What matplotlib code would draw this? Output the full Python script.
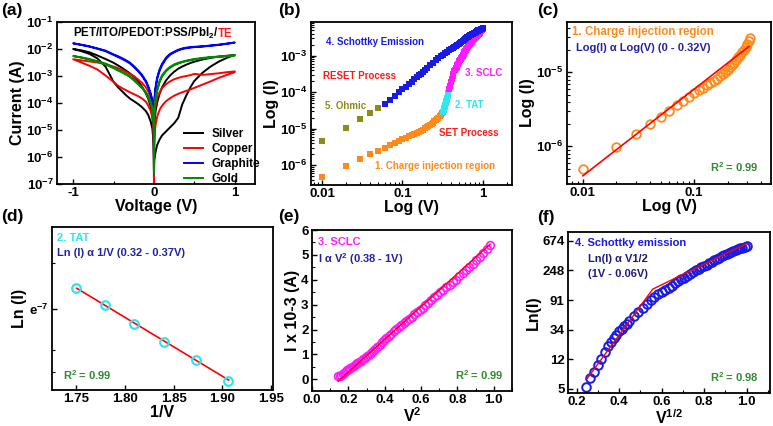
import numpy as np
import matplotlib
matplotlib.use("Agg")
import matplotlib.pyplot as plt
from matplotlib.ticker import FixedLocator, NullFormatter, NullLocator, MultipleLocator, LogLocator

plt.rcParams['font.family'] = ['Liberation Sans', 'DejaVu Sans']
plt.rcParams['font.weight'] = 'bold'
plt.rcParams['axes.labelweight'] = 'bold'
plt.rcParams['axes.unicode_minus'] = False
plt.rcParams['mathtext.fontset'] = 'custom'
plt.rcParams['mathtext.rm'] = 'Liberation Sans:bold'
plt.rcParams['mathtext.bf'] = 'Liberation Sans:bold'
plt.rcParams['mathtext.it'] = 'Liberation Sans:bold'
plt.rcParams['mathtext.default'] = 'rm'

# ---------------- DATA ----------------
# (a) I-V sweeps, log10(|I|) on a common voltage grid (positive side; negative = -V)
V_a = [0.0, 0.002, 0.005, 0.01, 0.02, 0.04, 0.07, 0.1, 0.15, 0.2, 0.25, 0.3, 0.35, 0.4, 0.45, 0.5, 0.6, 0.7, 0.8, 0.9, 1.0]
metals = ['Silver', 'Copper', 'Graphite', 'Gold']
silver_pos_a = [-7.0, -6.3, -6.1, -6.0, -5.8, -5.55, -5.35, -5.2, -5.05, -4.9, -4.75, -4.55, -4.05, -3.72, -3.42, -3.18, -2.88, -2.65, -2.47, -2.33, -2.22]
silver_pos_b = [-6.5, -5.3, -4.9, -4.6, -4.3, -3.98, -3.65, -3.42, -3.16, -2.98, -2.84, -2.73, -2.65, -2.58, -2.52, -2.47, -2.39, -2.33, -2.28, -2.25, -2.22]
silver_neg_a = [-6.6, -5.3, -5.0, -4.8, -4.5, -4.15, -3.85, -3.65, -3.38, -3.18, -3.02, -2.9, -2.79, -2.69, -2.6, -2.51, -2.37, -2.24, -2.12, -2.05, -2.0]
silver_neg_b = [-7.0, -6.0, -5.6, -5.3, -4.95, -4.7, -4.45, -4.3, -4.15, -4.03, -3.93, -3.83, -3.7, -3.55, -3.4, -3.22, -2.65, -2.35, -2.18, -2.08, -2.0]
copper_pos_a = [-7.0, -5.0, -4.6, -4.35, -4.1, -3.8, -3.6, -3.45, -3.3, -3.2, -3.12, -3.07, -3.03, -3.0, -2.97, -2.92, -2.96, -2.93, -2.9, -2.86, -2.83]
copper_pos_b = [-7.0, -5.8, -5.45, -5.1, -4.8, -4.5, -4.25, -4.1, -3.93, -3.82, -3.73, -3.66, -3.6, -3.55, -3.5, -3.44, -3.32, -3.2, -3.07, -2.96, -2.86]
copper_neg_a = [-7.0, -4.9, -4.55, -4.3, -4.05, -3.8, -3.58, -3.42, -3.25, -3.12, -3.0, -2.92, -2.84, -2.77, -2.7, -2.65, -2.56, -2.5, -2.46, -2.42, -2.38]
copper_neg_b = [-7.0, -5.5, -5.1, -4.8, -4.55, -4.3, -4.1, -3.95, -3.83, -3.74, -3.67, -3.6, -3.52, -3.44, -3.35, -3.22, -2.98, -2.76, -2.62, -2.5, -2.38]
graphite_pos_a = [-6.6, -4.3, -3.95, -3.7, -3.4, -3.05, -2.75, -2.55, -2.32, -2.18, -2.1, -2.03, -1.98, -1.95, -1.93, -1.92, -1.9, -1.87, -1.84, -1.8, -1.76]
graphite_pos_b = [-6.6, -4.4, -4.05, -3.78, -3.47, -3.1, -2.8, -2.6, -2.36, -2.21, -2.12, -2.05, -2.0, -1.97, -1.95, -1.93, -1.91, -1.88, -1.85, -1.81, -1.76]
graphite_neg_a = [-6.6, -4.3, -4.15, -4.05, -3.9, -3.65, -3.38, -3.18, -2.95, -2.78, -2.63, -2.5, -2.41, -2.33, -2.26, -2.2, -2.06, -1.98, -1.9, -1.84, -1.79]
graphite_neg_b = [-6.6, -4.4, -4.25, -4.12, -3.95, -3.7, -3.43, -3.22, -2.99, -2.81, -2.66, -2.53, -2.44, -2.36, -2.29, -2.22, -2.08, -1.99, -1.91, -1.85, -1.79]
gold_pos_a = [-6.6, -4.6, -4.3, -4.05, -3.8, -3.5, -3.17, -2.97, -2.78, -2.66, -2.57, -2.51, -2.47, -2.43, -2.4, -2.37, -2.33, -2.3, -2.28, -2.26, -2.24]
gold_pos_b = [-6.6, -4.7, -4.4, -4.12, -3.86, -3.55, -3.22, -3.02, -2.82, -2.69, -2.6, -2.54, -2.49, -2.45, -2.42, -2.39, -2.35, -2.31, -2.29, -2.27, -2.24]
gold_neg_a = [-6.6, -4.75, -4.55, -4.4, -4.2, -3.98, -3.75, -3.6, -3.41, -3.27, -3.13, -3.0, -2.92, -2.83, -2.76, -2.68, -2.54, -2.45, -2.37, -2.31, -2.26]
gold_neg_b = [-6.6, -4.85, -4.62, -4.45, -4.25, -4.02, -3.79, -3.63, -3.44, -3.3, -3.16, -3.03, -2.94, -2.86, -2.79, -2.71, -2.57, -2.47, -2.39, -2.32, -2.26]

# (b)/(c) 1. charge injection (SET)
V_inj = [0.01, 0.02, 0.03, 0.04, 0.05, 0.06, 0.07, 0.08, 0.09, 0.10, 0.11, 0.12, 0.13, 0.14, 0.15, 0.16,
         0.17, 0.18, 0.19, 0.20, 0.21, 0.22, 0.23, 0.24, 0.25, 0.26, 0.27, 0.28, 0.29, 0.30, 0.31, 0.32]
I_inj = [4.9e-7, 9.8e-7, 1.47e-6, 1.98e-6, 2.52e-6, 3.05e-6, 3.6e-6, 4.15e-6, 4.7e-6, 5.25e-6, 5.75e-6, 6.2e-6,
         6.7e-6, 7.2e-6, 7.7e-6, 8.25e-6, 8.85e-6, 9.5e-6, 1.02e-5, 1.09e-5, 1.17e-5, 1.26e-5, 1.36e-5, 1.47e-5,
         1.59e-5, 1.72e-5, 1.87e-5, 2.03e-5, 2.22e-5, 2.45e-5, 2.68e-5, 2.95e-5]
fit_c_V = [0.01, 0.31]
fit_c_I = [4.0e-7, 2.24e-5]

# (b) 2. TAT
V_tat = [0.32, 0.325, 0.33, 0.335, 0.34, 0.345, 0.35, 0.355, 0.36, 0.365, 0.37]
I_tat = [2.9e-5, 3.2e-5, 3.6e-5, 4.0e-5, 4.5e-5, 5.0e-5, 5.6e-5, 6.3e-5, 7.1e-5, 8.1e-5, 9.3e-5]

# (b)/(e) 3. SCLC, current in mA
V_sclc = [0.38, 0.39, 0.40, 0.41, 0.42, 0.43, 0.44, 0.45, 0.46, 0.47, 0.48, 0.49, 0.50, 0.51, 0.52, 0.53,
          0.54, 0.55, 0.56, 0.57, 0.58, 0.59, 0.60, 0.61, 0.62, 0.63, 0.64, 0.65, 0.66, 0.67, 0.68, 0.69,
          0.70, 0.71, 0.72, 0.73, 0.74, 0.75, 0.76, 0.77, 0.78, 0.79, 0.80, 0.81, 0.82, 0.83, 0.84, 0.85,
          0.86, 0.87, 0.88, 0.89, 0.90, 0.91, 0.92, 0.93, 0.94, 0.95, 0.96, 0.97, 0.98, 0.99]
I_sclc_mA = [0.12, 0.15, 0.19, 0.23, 0.27, 0.32, 0.37, 0.41, 0.46, 0.50, 0.55, 0.60, 0.65, 0.70, 0.75, 0.80,
             0.86, 0.92, 0.99, 1.06, 1.14, 1.22, 1.30, 1.39, 1.48, 1.57, 1.66, 1.75, 1.84, 1.93, 2.01, 2.09,
             2.17, 2.25, 2.34, 2.43, 2.52, 2.61, 2.70, 2.79, 2.87, 2.97, 3.07, 3.18, 3.29, 3.39, 3.49, 3.59,
             3.69, 3.80, 3.90, 4.01, 4.15, 4.27, 4.39, 4.52, 4.65, 4.78, 4.92, 5.07, 5.22, 5.38]
fit_e_x = [0.144, 0.98]
fit_e_y = [-0.08, 5.43]

# (b)/(f) 4. Schottky emission (RESET)
V_sch = [0.06, 0.07, 0.08, 0.09, 0.10, 0.11, 0.12, 0.13, 0.14, 0.15, 0.16, 0.17, 0.18, 0.19, 0.20,
         0.22, 0.24, 0.26, 0.28, 0.30, 0.32, 0.34, 0.36, 0.38, 0.40, 0.42, 0.44, 0.46, 0.48, 0.50,
         0.52, 0.54, 0.56, 0.58, 0.60, 0.62, 0.64, 0.66, 0.68, 0.70, 0.72, 0.74, 0.76, 0.78, 0.80,
         0.82, 0.84, 0.86, 0.88, 0.90, 0.92, 0.94, 0.96, 0.98, 1.00]
logI_sch = [-4.31, -4.20, -4.10, -4.005, -3.92, -3.85, -3.78, -3.71, -3.65, -3.59, -3.54, -3.49, -3.44, -3.39, -3.35,
            -3.27, -3.20, -3.13, -3.07, -3.01, -2.97, -2.93, -2.89, -2.86, -2.83, -2.80, -2.77, -2.73, -2.70, -2.67,
            -2.65, -2.62, -2.60, -2.57, -2.54, -2.52, -2.50, -2.48, -2.46, -2.45, -2.43, -2.41, -2.40, -2.38, -2.37,
            -2.35, -2.34, -2.33, -2.31, -2.30, -2.29, -2.28, -2.27, -2.26, -2.25]
ln_sch = [1.59, 1.87, 2.07, 2.33, 2.54, 2.76, 2.95, 3.09, 3.23, 3.34, 3.46, 3.55, 3.64, 3.72, 3.82,
          3.98, 4.12, 4.26, 4.39, 4.51, 4.61, 4.70, 4.78, 4.86, 4.93, 5.00, 5.07, 5.14, 5.21, 5.27,
          5.33, 5.39, 5.45, 5.51, 5.56, 5.61, 5.66, 5.71, 5.76, 5.81, 5.86, 5.90, 5.94, 5.98, 6.02,
          6.06, 6.10, 6.14, 6.17, 6.20, 6.23, 6.26, 6.28, 6.31, 6.33]
fit_f_x = [0.25, 0.558, 1.0]
fit_f_y = [1.87, 4.88, 6.42]
f_tick_labels = ['5', '12', '34', '91', '248', '674']
f_tick_pos = [1.513, 2.513, 3.513, 4.513, 5.513, 6.513]

# (b) 5. Ohmic
V_ohm = [0.01, 0.02, 0.03, 0.04, 0.05]
I_ohm = [4.6e-6, 1.06e-5, 1.84e-5, 2.63e-5, 3.68e-5]

# (d) TAT, ln(I) vs 1/V
invV_tat = [1.750, 1.779, 1.809, 1.840, 1.873, 1.906]
lnI_tat = [-6.784, -6.96, -7.15, -7.33, -7.51, -7.717]
fit_d_x = [1.7504, 1.9064]
fit_d_y = [-6.79, -7.707]

# ---------------- FIGURE ----------------
W, H = 773, 426
fig = plt.figure(figsize=(W / 100, H / 100), dpi=100)


def add_ax(l, t, r, b):
    return fig.add_axes([l / W, 1 - b / H, (r - l) / W, (b - t) / H])


def ftext(x, y, s, **kw):
    kw.setdefault('va', 'center')
    kw.setdefault('ha', 'left')
    kw.setdefault('fontweight', 'bold')
    return fig.text(x / W, 1 - y / H, s, **kw)


def style(ax):
    ax.tick_params(which='both', direction='in', top=False, right=False, labelsize=9.5, pad=2.5)
    ax.tick_params(which='major', length=3.5, width=1.0)
    ax.tick_params(which='minor', length=2.0, width=0.8)
    for sp in ax.spines.values():
        sp.set_linewidth(1.3)


C_OR = '#ff8a1a'
C_CY = '#2ee6f0'
C_MG = '#ff1aff'
C_BL = '#1a1ae6'
C_OL = '#8c8c1a'
C_NAVY = '#2222a0'
C_GR = '#2e8b2e'
C_RED = '#ff1a1a'

# ---- (a)
ax = add_ax(57, 22, 255, 184)
style(ax)
curves = {
    'Silver': ('black', silver_pos_a, silver_pos_b, silver_neg_a, silver_neg_b),
    'Copper': ('#ff0000', copper_pos_a, copper_pos_b, copper_neg_a, copper_neg_b),
    'Graphite': ('#0000ff', graphite_pos_a, graphite_pos_b, graphite_neg_a, graphite_neg_b),
    'Gold': ('#008a00', gold_pos_a, gold_pos_b, gold_neg_a, gold_neg_b),
}
Va = np.array(V_a)
for name in metals:
    col, pa, pb, na, nb = curves[name]
    Vp = np.concatenate([Va, Va[::-1], -Va, -Va[::-1]])
    Lp = np.concatenate([pa, pb[::-1], na, nb[::-1]])
    ax.plot(Vp, 10.0 ** Lp, color=col, lw=1.4, label=name)
ax.set_yscale('log')
ax.set_ylim(1e-7, 1e-1)
ax.set_xlim(-1.2, 1.25)
ax.set_xticks([-1, 0, 1])
ax.xaxis.set_minor_locator(FixedLocator([-0.5, 0.5]))
ax.yaxis.set_major_locator(LogLocator(base=10, numticks=10))
ax.yaxis.set_minor_locator(NullLocator())
ax.set_xlabel('Voltage (V)', fontsize=11.5, labelpad=0)
ax.set_ylabel('Current (A)', fontsize=11.5, labelpad=1)
ax.legend(loc='upper left', bbox_to_anchor=(0.62, 0.375), frameon=False, fontsize=8.5,
          handlelength=1.6, handletextpad=0.7, labelspacing=0.25, borderaxespad=0)
t1 = ax.text(0.08, 0.905, 'PET/ITO/PEDOT:PSS/PbI$_2$/', transform=ax.transAxes, ha='left', va='baseline',
             fontsize=8.3, fontweight='bold')
fig.canvas.draw()
bb = t1.get_window_extent(renderer=fig.canvas.get_renderer())
x_end = ax.transAxes.inverted().transform((bb.x1, bb.y0))[0]
ax.text(x_end, 0.905, 'TE', transform=ax.transAxes, ha='left', va='baseline',
        fontsize=8.3, fontweight='bold', color=C_RED)

# ---- (b)
ax = add_ax(311, 22, 512, 185)
style(ax)
ms_b = 3.8
ax.plot(V_inj, I_inj, 's', color=C_OR, ms=ms_b, mew=0)
ax.plot(V_tat, I_tat, 's', color=C_CY, ms=ms_b, mew=0)
ax.plot(V_sclc, np.array(I_sclc_mA) * 1e-3, 's', color=C_MG, ms=ms_b, mew=0)
ax.plot(V_sch, 10.0 ** np.array(logI_sch), 's', color=C_BL, ms=ms_b, mew=0)
ax.plot(V_ohm, I_ohm, 's', color=C_OL, ms=ms_b, mew=0)
ax.set_xscale('log')
ax.set_yscale('log')
ax.set_xlim(0.0073, 2.3)
ax.set_ylim(2.9e-7, 8.3e-3)
ax.set_xticks([0.01, 0.1, 1], labels=['0.01', '0.1', '1'])
ax.xaxis.set_minor_formatter(NullFormatter())
ax.yaxis.set_minor_formatter(NullFormatter())
ax.set_yticks([1e-6, 1e-5, 1e-4, 1e-3])
ax.set_xlabel('Log (V)', fontsize=11.5, labelpad=0)
ax.set_ylabel('Log (I)', fontsize=11.5, labelpad=1)
fs_b = 7
ftext(326, 42, '4. Schottky Emission', color=C_BL, fontsize=fs_b)
ftext(323, 76, 'RESET Process', color=C_RED, fontsize=fs_b)
ftext(325, 106, '5. Ohmic', color=C_OL, fontsize=fs_b)
ftext(465, 73, '3. SCLC', color=C_MG, fontsize=fs_b)
ftext(455, 105, '2. TAT', color=C_CY, fontsize=fs_b)
ftext(439, 133, 'SET Process', color=C_RED, fontsize=fs_b)
ftext(375, 166, '1. Charge injection region', color=C_OR, fontsize=fs_b)

# ---- (c)
ax = add_ax(567, 22, 771, 184)
style(ax)
ax.plot(V_inj, I_inj, 'o', mfc='none', mec=C_OR, ms=6.2, mew=1.3)
ax.plot(fit_c_V, fit_c_I, '-', color='#ff0000', lw=1.2)
ax.set_xscale('log')
ax.set_yscale('log')
ax.set_xlim(0.0072, 0.49)
ax.set_ylim(3.1e-7, 4.8e-5)
ax.set_xticks([0.01, 0.1], labels=['0.01', '0.1'])
ax.xaxis.set_minor_formatter(NullFormatter())
ax.yaxis.set_minor_formatter(NullFormatter())
ax.set_yticks([1e-6, 1e-5])
ax.set_xlabel('Log (V)', fontsize=11.5, labelpad=0)
ax.set_ylabel('Log (I)', fontsize=11.5, labelpad=1)
ftext(572, 32, '1. Charge injection region', color=C_OR, fontsize=8.3)
ftext(576, 48, 'Log(I) \u03b1 Log(V) (0 - 0.32V)', color=C_NAVY, fontsize=8)
ftext(710, 167, 'R$^2$ = 0.99', color=C_GR, fontsize=8)

# ---- (d)
ax = add_ax(51.7, 226.7, 273, 390)
style(ax)
ax.plot(fit_d_x, fit_d_y, '-', color='#ff0000', lw=1.2)
ax.plot(invV_tat, lnI_tat, 'o', mfc='none', mec=C_CY, ms=6.2, mew=1.6)
ax.set_xlim(1.7246, 1.952)
ax.set_ylim(-7.807, -6.174)
ax.set_xticks([1.75, 1.80, 1.85, 1.90, 1.95], labels=['1.75', '1.80', '1.85', '1.90', '1.95'])
ax.set_yticks([-7], labels=['e$^{-7}$'])
ax.yaxis.set_minor_locator(FixedLocator([-6.537, -7.41, -7.627]))
ax.set_xlabel('1/V', fontsize=11.5, labelpad=0)
ax.set_ylabel('Ln (I)', fontsize=11.5, labelpad=1)
ftext(57, 238, '2. TAT', color=C_CY, fontsize=8)
ftext(57, 253, 'Ln (I) \u03b1 1/V (0.32 - 0.37V)', color=C_NAVY, fontsize=8)
ftext(63, 375, 'R$^2$ = 0.99', color=C_GR, fontsize=8)

# ---- (e)
ax = add_ax(312, 230, 512, 391)
style(ax)
ax.plot(np.array(V_sclc) ** 2, I_sclc_mA, 'o', mfc='none', mec=C_MG, ms=5.6, mew=1.2)
ax.plot(fit_e_x, fit_e_y, '-', color='#ff0000', lw=1.0)
ax.set_xlim(0, 1.1)
ax.set_ylim(-0.47, 6.0)
ax.set_xticks([0.0, 0.2, 0.4, 0.6, 0.8, 1.0], labels=['0.0', '0.2', '0.4', '0.6', '0.8', '1.0'])
ax.xaxis.set_minor_locator(MultipleLocator(0.1))
ax.set_yticks([0, 1, 2, 3, 4, 5, 6])
ax.yaxis.set_minor_locator(MultipleLocator(0.5))
ax.set_xlabel('V$^2$', fontsize=11.5, labelpad=0)
ax.set_ylabel('I x 10-3 (A)', fontsize=11.5, labelpad=1)
ftext(318, 242, '3. SCLC', color=C_MG, fontsize=8)
ftext(318, 259, 'I \u03b1 V$^2$ (0.38 - 1V)', color=C_NAVY, fontsize=8)
ftext(455, 375, 'R$^2$ = 0.99', color=C_GR, fontsize=8)

# ---- (f)
ax = add_ax(568, 231.7, 770, 392.7)
style(ax)
ax.plot(np.sqrt(V_sch), ln_sch, 'o', mfc='none', mec=C_BL, ms=6.2, mew=1.4)
ax.plot(fit_f_x, fit_f_y, '-', color='#ff0000', lw=1.0)
ax.set_xlim(0.159, 1.11)
ax.set_ylim(1.388, 6.816)
ax.set_xticks([0.2, 0.4, 0.6, 0.8, 1.0], labels=['0.2', '0.4', '0.6', '0.8', '1.0'])
ax.xaxis.set_minor_locator(MultipleLocator(0.1))
ax.set_yticks(f_tick_pos, labels=f_tick_labels)
ax.set_xlabel('V$^{1/2}$', fontsize=11.5, labelpad=0)
ax.set_ylabel('Ln(I)', fontsize=11.5, labelpad=1)
ftext(575, 243, '4. Schottky emission', color='#1a1ae6', fontsize=8)
ftext(588, 259, 'Ln(I) \u03b1 V1/2', color='#1c1c80', fontsize=8)
ftext(588, 274, '(1V - 0.06V)', color='#1c1c80', fontsize=8)
ftext(710, 377, 'R$^2$ = 0.98', color=C_GR, fontsize=8)

# panel labels
for lab, x, y in [('(a)', 1, 11), ('(b)', 278, 11), ('(c)', 537, 11),
                  ('(d)', 1, 216), ('(e)', 278, 216), ('(f)', 537, 218)]:
    ftext(x, y, lab, fontsize=12.5)

fig.savefig('out.png', dpi=100)
